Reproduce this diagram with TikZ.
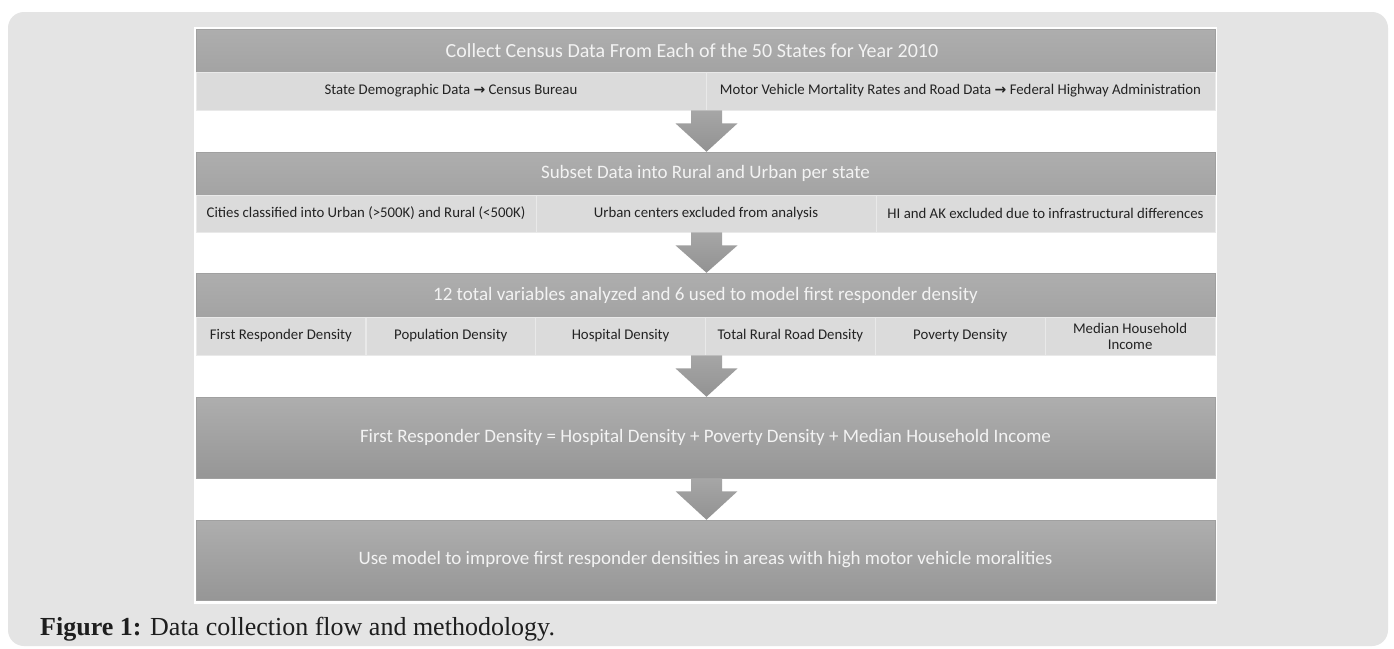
\documentclass[tikz,border=0pt]{standalone}
\usepackage{fontspec}
\newfontfamily\calib{Carlito}
\newfontfamily\capfont{Liberation Serif}
\newfontfamily\arrfont{DejaVu Sans Bold}
\usetikzlibrary{calc}
\definecolor{panel}{RGB}{228,228,228}
\definecolor{hdrtop}{RGB}{174,174,174}
\definecolor{hdrbot}{RGB}{163,163,163}
\definecolor{hdrbotb}{RGB}{150,150,150}
\definecolor{hdrline}{RGB}{160,160,160}
\definecolor{bandc}{RGB}{219,219,219}
\definecolor{bandline}{RGB}{233,233,233}
\definecolor{hdrtext}{RGB}{243,243,243}
\definecolor{bandtext}{RGB}{35,35,35}
\definecolor{arrtop}{RGB}{166,166,166}
\definecolor{arrbot}{RGB}{146,146,146}
\definecolor{captext}{RGB}{30,30,30}
\newcommand{\flowarrow}[2]{%
  \shade[top color=arrtop,bottom color=arrbot]
    ($(#1.south -| #2.north)+(-14.5,0)$) -- ($(#1.south -| #2.north)+(16.5,0)$)
    -- ($(#1.south -| #2.north)+(16.5,13)$) -- ($(#1.south -| #2.north)+(32,13)$)
    -- ($(#2.north)+(1,0)$)
    -- ($(#1.south -| #2.north)+(-30,13)$) -- ($(#1.south -| #2.north)+(-14.5,13)$) -- cycle;}
\newcommand{\rarr}{{\arrfont\fontsize{14}{14}\selectfont\char"2192}}
\tikzset{
  hdr/.style={shape=rectangle, top color=hdrtop, bottom color=hdrbot, draw=hdrline,
    line width=0.5pt, minimum width=1019pt, inner sep=0pt, text=hdrtext,
    font=\calib\fontsize{19}{22}\selectfont},
  bighdr/.style={hdr, bottom color=hdrbotb},
  bandcell/.style={shape=rectangle, fill=bandc, draw=bandline, line width=0.8pt,
    inner sep=0pt, text=bandtext, align=center,
    font=\calib\fontsize{14.8}{16}\selectfont},
}
\begin{document}
\begin{tikzpicture}[x=1pt,y=-1pt]
\useasboundingbox (0,0) rectangle (1394,648);
\clip (0,0) rectangle (1394,648);
\fill[white] (0,0) rectangle (1394,648);
\fill[panel, rounded corners=16pt] (8,12) rectangle (1388,646);
\fill[white] (194,27) rectangle (1217,604);

% row 1
\node[hdr, minimum height=43pt, font=\calib\fontsize{20}{22}\selectfont] (h1) at (705.5,50.5)
  {\hspace*{-27pt}Collect Census Data From Each of the 50 States for Year 2010};
\node[bandcell, minimum width=510pt, minimum height=38pt] (b1a) at (451,91)
  {State Demographic Data \rarr{} Census Bureau};
\node[bandcell, minimum width=509pt, minimum height=38pt] (b1b) at (960.5,91)
  {Motor Vehicle Mortality Rates and Road Data \rarr{} Federal Highway Administration};

% row 2
\node[hdr, minimum height=43pt] (h2) at (705.5,173.5) {Subset Data into Rural and Urban per state};
\node[bandcell, minimum width=340pt, minimum height=37pt] (b2a) at (366,213.5)
  {Cities classified into Urban (>500K) and Rural (<500K)};
\node[bandcell, minimum width=340pt, minimum height=37pt] (b2b) at (706,213.5)
  {Urban centers excluded from analysis};
\node[bandcell, minimum width=339pt, minimum height=37pt] (b2c) at (1045.5,213.5)
  {HI and AK excluded due to infrastructural differences};

% row 3
\node[hdr, minimum height=44pt] (h3) at (705.5,295)
  {12 total variables analyzed and 6 used to model first responder density};
\node[bandcell, minimum width=169.8pt, minimum height=38pt] (c1) at (280.9,336) {First Responder Density};
\node[bandcell, minimum width=169.8pt, minimum height=38pt] (c2) at (450.8,336) {Population Density};
\node[bandcell, minimum width=169.8pt, minimum height=38pt] (c3) at (620.6,336) {Hospital Density};
\node[bandcell, minimum width=169.8pt, minimum height=38pt] (c4) at (790.4,336) {Total Rural Road Density};
\node[bandcell, minimum width=169.8pt, minimum height=38pt] (c5) at (960.3,336) {Poverty Density};
\node[bandcell, minimum width=169.8pt, minimum height=38pt] (c6) at (1130.1,336) {Median Household\\Income};

% row 4, 5
\node[bighdr, minimum height=81pt] (h4) at (705.5,437.5)
  {First Responder Density = Hospital Density + Poverty Density + Median Household Income};
\node[bighdr, minimum height=80pt] (h5) at (705.5,560)
  {Use model to improve first responder densities in areas with high motor vehicle moralities};

% arrows
\flowarrow{b1a}{h2}
\flowarrow{b2a}{h3}
\flowarrow{c1}{h4}
\flowarrow{h4}{h5}

% caption
\node[anchor=base west, inner sep=0pt, text=captext, font=\capfont\fontsize{26}{28}\selectfont] (cap) at (40,635)
  {\textbf{Figure 1:} Data collection flow and methodology.};
\end{tikzpicture}
\end{document}
